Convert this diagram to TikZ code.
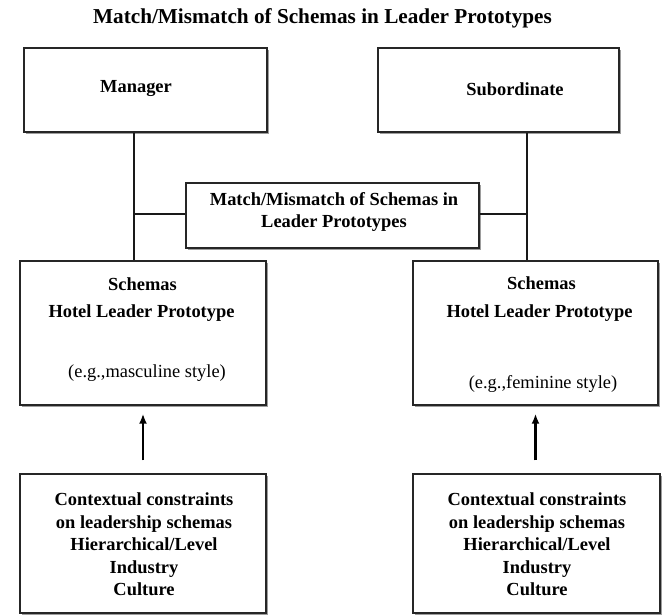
\documentclass[tikz,border=0pt]{standalone}
\usepackage{fontspec}
\setmainfont{Liberation Serif}
\usetikzlibrary{positioning, shadows, arrows.meta}

\begin{document}
\begin{tikzpicture}[x=1bp, y=-1bp]
			\tikzstyle{framebox}=[draw=black!85, line width=1.4bp, fill=white, inner sep=0pt, drop shadow={shadow xshift=1.6bp, shadow yshift=-1.6bp, fill=black!55, opacity=0.7}]
			\tikzstyle{boldtxt}=[font=\fontsize{18.5}{22.5}\selectfont\bfseries, align=center, inner sep=0pt]
			\tikzstyle{plaintxt}=[font=\fontsize{18.5}{22.5}\selectfont, inner sep=0pt]
			\tikzstyle{link}=[line width=1.5bp, black!90]
			\tikzstyle{upward}=[-{Latex[length=10bp, width=8bp]}, line width=2.6bp, shorten <=13bp, shorten >=8bp]
			
			\useasboundingbox (0,0) rectangle (664,615);
			
			\node (title) at (322.5,18) [font=\fontsize{21.3}{24}\selectfont\bfseries] {Match/Mismatch of Schemas in Leader Prototypes};
			
			\coordinate (jL) at (134,214);
			\coordinate (jR) at (527,214);
			
			\node (mgr) at (145.5,90) [framebox, minimum width=243bp, minimum height=84bp] {};
			\node (sub) at (498.5,90) [framebox, minimum width=241bp, minimum height=84bp] {};
			\node (match) at (332.5,215.5) [framebox, minimum width=293bp, minimum height=65bp] {};
			\node (schL) at (143,333) [framebox, minimum width=246bp, minimum height=144bp] {};
			\node (schR) at (535.5,333) [framebox, minimum width=245bp, minimum height=144bp] {};
			\node (ctxL) at (143,543.5) [framebox, minimum width=246bp, minimum height=139bp] {};
			\node (ctxR) at (536.5,543.5) [framebox, minimum width=247bp, minimum height=139bp] {};
			
			\draw [link] (jL |- mgr.south) -- (jL |- schL.north);
			\draw [link] (jR |- sub.south) -- (jR |- schR.north);
			\draw [link] (jL) -- (match.west |- jL);
			\draw [link] (jR) -- (match.east |- jR);
			
			\draw [upward] (ctxL.north) -- (schL.south);
			\draw [upward] (ctxR.north -| schR.south) -- (schR.south);
			
			\node (tmgr) at (136,89) [boldtxt] {Manager};
			\node (tsub) at (515,89) [boldtxt] {Subordinate};
			\node (tmatch) at (334,212) [boldtxt] {Match/Mismatch of Schemas in\\Leader Prototypes};
			
			\node (tschL) at (142.5,284) [boldtxt] {Schemas};
			\node (thotL) at (141.5,313) [boldtxt] {Hotel Leader Prototype};
			\node (tegL) at (147,373) [plaintxt] {(e.g.,masculine style)};
			\node (tschR) at (541.5,283) [boldtxt] {Schemas};
			\node (thotR) at (539.5,313) [boldtxt] {Hotel Leader Prototype};
			\node (tegR) at (543,384) [plaintxt] {(e.g.,feminine style)};
			
			\node (tctxL) at (144,544.5) [boldtxt] {Contextual constraints\\on leadership schemas\\Hierarchical/Level\\Industry\\Culture};
			\node (tctxR) at (537,544.5) [boldtxt] {Contextual constraints\\on leadership schemas\\Hierarchical/Level\\Industry\\Culture};
\end{tikzpicture}
\end{document}
